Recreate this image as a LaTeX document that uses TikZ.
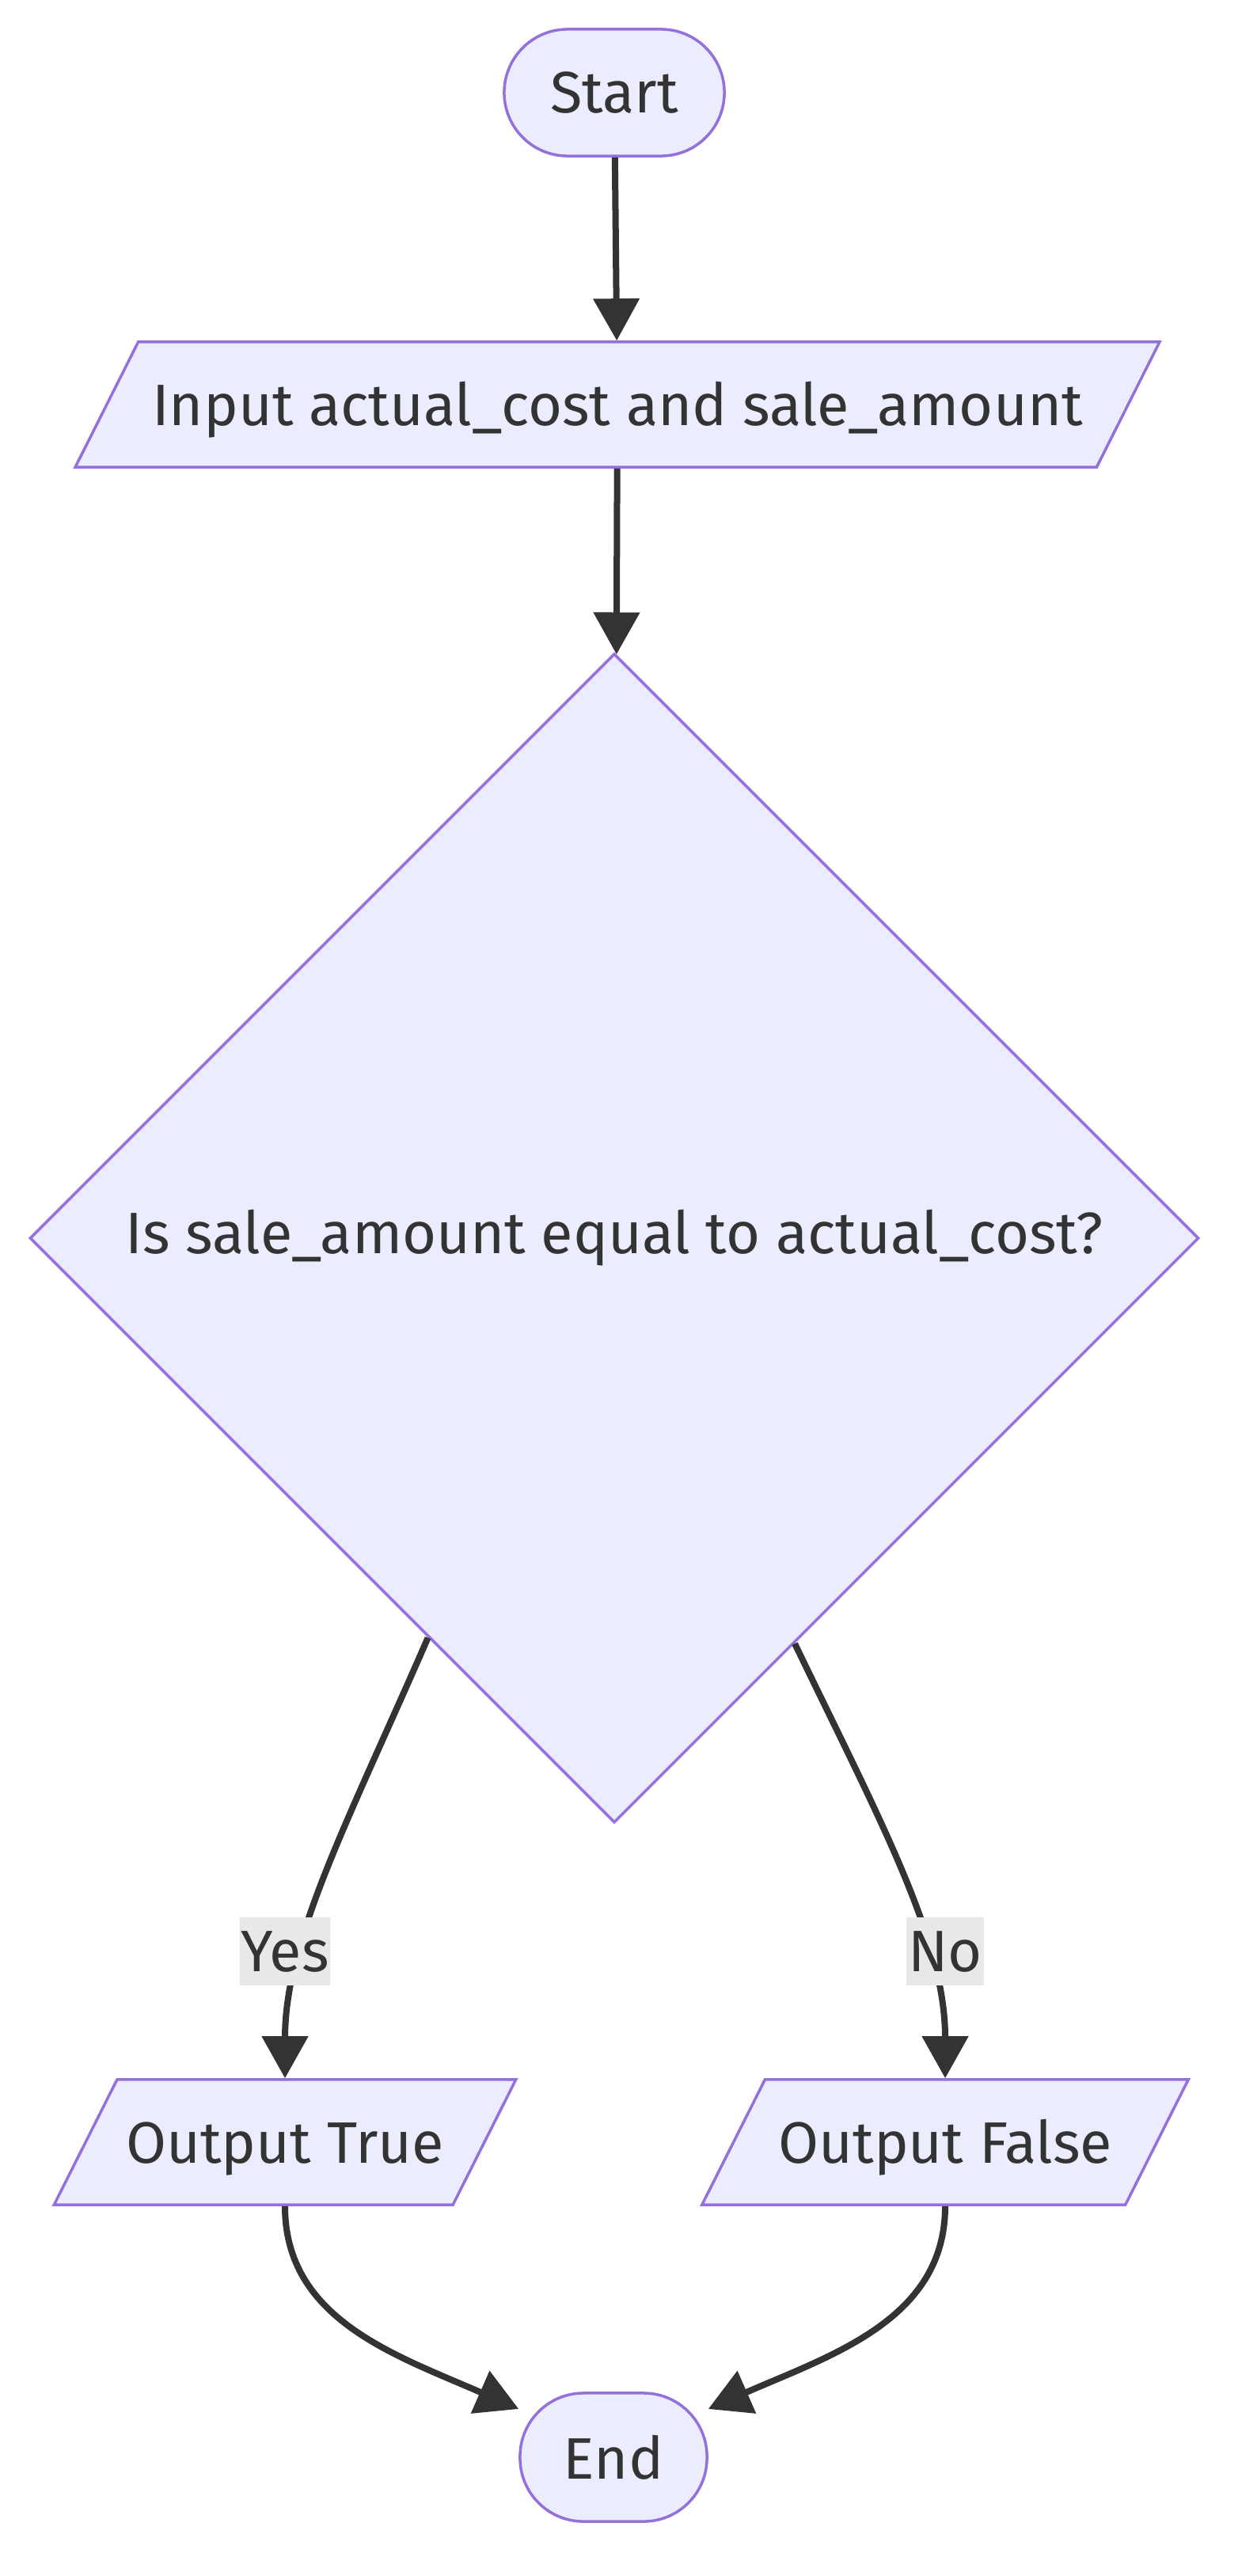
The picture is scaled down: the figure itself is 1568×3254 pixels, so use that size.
\documentclass[tikz,border=0pt]{standalone}
\usepackage{fontspec}
\setmainfont{Fira Sans}
\usetikzlibrary{shapes.geometric,arrows.meta}
\definecolor{nodefill}{HTML}{ECECFF}
\definecolor{nodeline}{HTML}{9370DB}
\definecolor{edgeline}{HTML}{333333}
\definecolor{lblfill}{HTML}{E8E8E8}
\begin{document}
\begin{tikzpicture}[x=0.01cm,y=-0.01cm,
  box/.style={draw=nodeline,fill=nodefill,line width=0.035cm,text=edgeline,font=\fontsize{21}{25}\selectfont,inner sep=0pt},
  term/.style={box,rectangle,rounded corners=0.8cm,minimum height=1.6cm},
  io/.style={box,trapezium,trapezium left angle=63.3,trapezium right angle=116.7,trapezium stretches body,text height=1.05cm,text depth=0.53cm},
  decide/.style={box,diamond,aspect=1,minimum size=14.76cm},
  flow/.style={draw=edgeline,line width=0.08cm,-{Triangle[length=0.53cm,width=0.57cm]}},
  lbl/.style={fill=lblfill,text=edgeline,font=\fontsize{21}{25}\selectfont,inner xsep=0.5pt,inner ysep=0pt,minimum height=0.86cm}]
\useasboundingbox (0,0) rectangle (1568,3254);
\node[term,minimum width=2.78cm] (start) at (776,117) {Start};
\node[io,minimum width=13.69cm] (input) at (780,511) {Input actual\_cost and sale\_amount};
\node[decide] (check) at (776,1564) {Is sale\_amount equal to actual\_cost?};
\node[io,minimum width=5.83cm] (outtrue) at (360,2706) {Output True};
\node[io,minimum width=6.14cm] (outfalse) at (1194,2706) {Output False};
\node[term,minimum width=2.36cm,minimum height=1.62cm] (stop) at (775,3104) {End};
\draw[flow] (start) -- (input);
\draw[flow] (input) -- (check);
\draw[flow] (check.245.7) .. controls (440,2300) and (360,2450) .. (outtrue);
\draw[flow] (check.294.5) .. controls (1112,2300) and (1194,2450) .. (outfalse);
\draw[flow] (outtrue.270) .. controls (360,2930) and (500,2975) .. (stop.153);
\draw[flow] (outfalse.270) .. controls (1194,2930) and (1050,2975) .. (stop.27);
\node[lbl] (yes) at (360,2465) {Yes};
\node[lbl] (no) at (1194,2465) {No};
\end{tikzpicture}
\end{document}
